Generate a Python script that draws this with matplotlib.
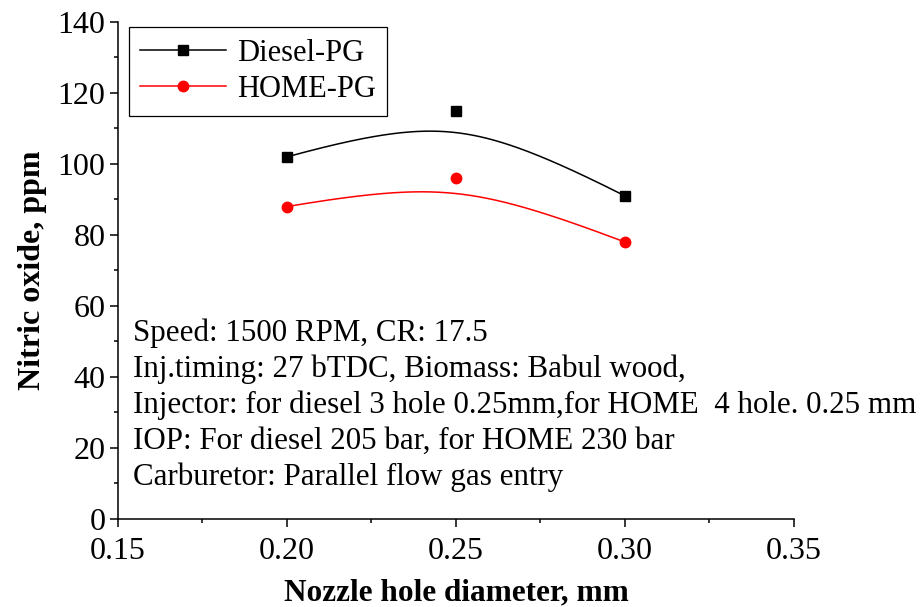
import numpy as np
import matplotlib
matplotlib.use("Agg")
import matplotlib.pyplot as plt
from matplotlib.ticker import MultipleLocator

plt.rcParams['font.family'] = ['Liberation Serif', 'DejaVu Serif']

# nozzle hole diameter (mm) and NO emission (ppm)
nozzle = [0.20, 0.25, 0.30]
no_diesel = [102, 115, 91]
no_home = [88, 96, 78]

notes = ("Speed: 1500 RPM, CR: 17.5\n"
         "Inj.timing: 27 bTDC, Biomass: Babul wood,\n"
         "Injector: for diesel 3 hole 0.25mm,for HOME  4 hole. 0.25 mm\n"
         "IOP: For diesel 205 bar, for HOME 230 bar\n"
         "Carburetor: Parallel flow gas entry")


def smooth(xs, ys, w=2.0, n=200):
    # weighted quadratic bezier through the three points (end points fixed)
    t = np.linspace(0, 1, n)
    b0 = (1 - t) ** 2
    b1 = 2 * w * t * (1 - t)
    b2 = t ** 2
    den = b0 + b1 + b2
    sx = (b0 * xs[0] + b1 * xs[1] + b2 * xs[2]) / den
    sy = (b0 * ys[0] + b1 * ys[1] + b2 * ys[2]) / den
    return sx, sy


fig = plt.figure(figsize=(9.24, 6.07), dpi=100)
ax = fig.add_axes([0.1277, 0.145, 0.7316, 0.8188])

sx, sy = smooth(nozzle, no_diesel)
ax.plot(sx, sy, color='black', lw=1.1)
ax.plot(nozzle, no_diesel, ls='none', marker='s', ms=6.5, color='black')
sx, sy = smooth(nozzle, no_home)
ax.plot(sx, sy, color='red', lw=1.1)
ax.plot(nozzle, no_home, ls='none', marker='o', ms=7.5, color='red')

# legend handles: line with marker
h1, = ax.plot([], [], color='black', lw=1.1, marker='s', ms=6.5)
h2, = ax.plot([], [], color='red', lw=1.1, marker='o', ms=7.5)
leg = ax.legend([h1, h2], ['Diesel-PG', 'HOME-PG'], loc='upper left',
                bbox_to_anchor=(0.016, 0.99), borderaxespad=0, fontsize=22,
                handlelength=2.8, handletextpad=0.35, labelspacing=0.25,
                borderpad=0.38, fancybox=False, framealpha=1)
leg.get_frame().set_edgecolor('black')
leg.get_frame().set_linewidth(0.9)

ax.text(0.022, 0.229, notes, transform=ax.transAxes, fontsize=22.3,
        va='center', ha='left', linespacing=1.3)

ax.set_xlim(0.15, 0.35)
ax.set_ylim(0, 140)
ax.xaxis.set_major_locator(MultipleLocator(0.05))
ax.xaxis.set_minor_locator(MultipleLocator(0.025))
ax.yaxis.set_major_locator(MultipleLocator(20))
ax.yaxis.set_minor_locator(MultipleLocator(10))
ax.xaxis.set_major_formatter(matplotlib.ticker.FormatStrFormatter('%.2f'))

for s in ['top', 'right']:
    ax.spines[s].set_visible(False)
for s in ['left', 'bottom']:
    ax.spines[s].set_linewidth(1.1)
ax.tick_params(which='major', direction='out', length=6, width=1.1,
               labelsize=23, pad=3)
ax.tick_params(axis='x', which='major', pad=7)
ax.tick_params(which='minor', direction='out', length=3, width=1.1)

ax.set_xlabel('Nozzle hole diameter, mm', fontsize=22.5, fontweight='bold',
              labelpad=9)
ax.set_ylabel('Nitric oxide, ppm', fontsize=23, fontweight='bold',
              labelpad=8)

fig.savefig('out.png', dpi=100)
